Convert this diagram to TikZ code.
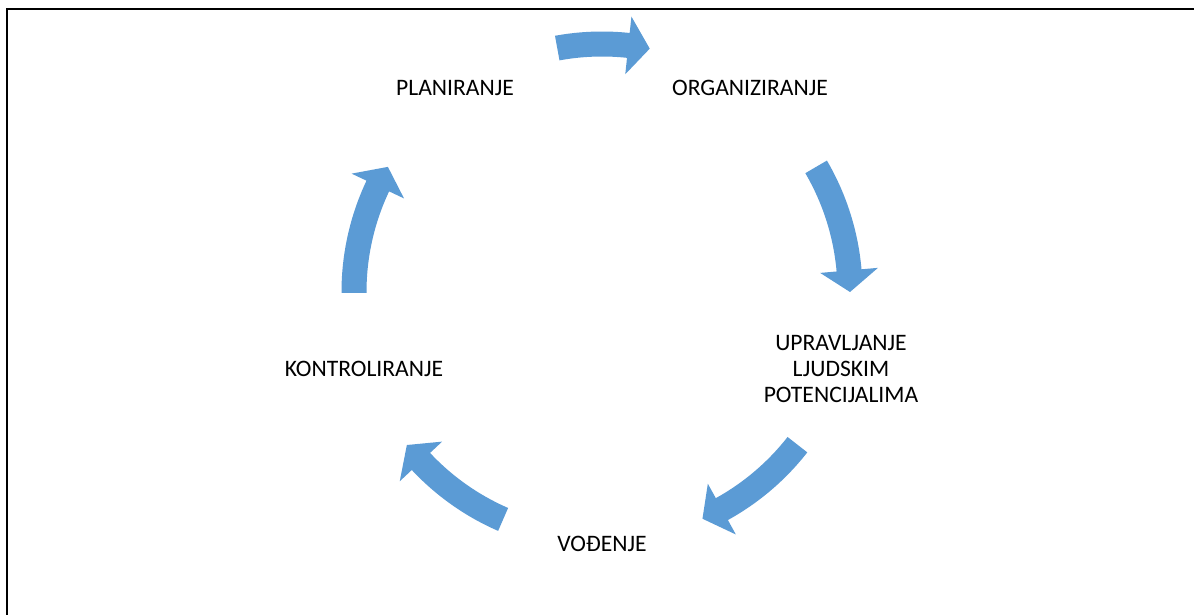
\documentclass[tikz,border=0pt]{standalone}
\usepackage{fontspec}
\setmainfont{Carlito}
\definecolor{arrowblue}{HTML}{5B9BD5}
\tikzset{
  cyc/.style={fill=arrowblue},
  lbl/.style={font=\fontsize{23.6}{26}\selectfont, align=center, inner sep=0pt, text=black},
  frame/.style={line width=1.8pt, draw=black}
}
\newcommand\cycarrow[2]{%
  \fill[cyc] (#1:260.5pt) arc[start angle=#1, end angle=#2+5, radius=260.5pt]
    -- (#2+5:277pt) -- (#2:248pt) -- (#2+5:219pt) -- (#2+5:235.5pt)
    arc[start angle=#2+5, end angle=#1, radius=235.5pt] -- cycle;}
\begin{document}
\begin{tikzpicture}[x=1pt,y=1pt]
  \useasboundingbox (0,0) rectangle (1194,614);
  \fill[white] (0,0) rectangle (1194,614);
  \draw[frame] (7,-2) -- (7,605) -- (1196,605);
  \node[lbl] (plan) at (455,526) {PLANIRANJE};
  \node[lbl] (org) at (750,526) {ORGANIZIRANJE};
  \node[lbl] (ulp) at (841,245) {UPRAVLJANJE\\LJUDSKIM\\POTENCIJALIMA};
  \node[lbl] (vod) at (602,70) {VOĐENJE};
  \node[lbl] (kon) at (364,245) {KONTROLIRANJE};
  \begin{scope}[shift={(602,322)}]
    \cycarrow{100.4}{78.9}
    \cycarrow{30.3}{0}
    \cycarrow{-38}{-66.1}
    \cycarrow{-113.5}{-141.9}
    \cycarrow{180.2}{149.7}
  \end{scope}
\end{tikzpicture}
\end{document}
